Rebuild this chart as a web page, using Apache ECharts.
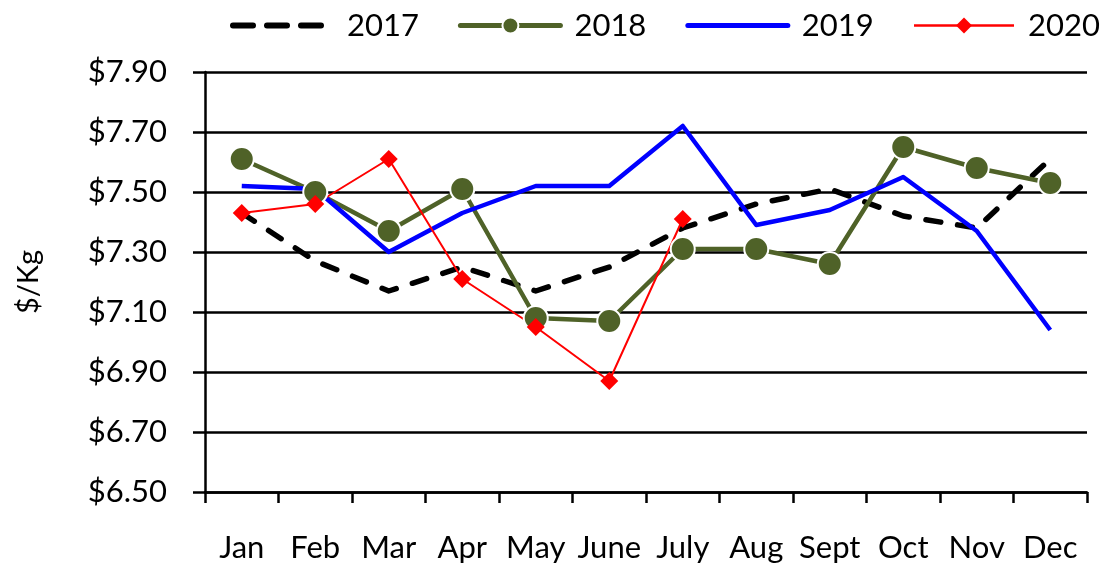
<!DOCTYPE html>
<html>
<head>
<meta charset="utf-8">
<script src="https://cdn.jsdelivr.net/npm/echarts@6/dist/echarts.min.js"></script>
<style>
  html, body { margin: 0; padding: 0; background: #fff; }
  #main { width: 1104px; height: 564px; }
</style>
</head>
<body>
<div id="main"></div>
<script>
// 月份
let months = ['Jan', 'Feb', 'Mar', 'Apr', 'May', 'June', 'July', 'Aug', 'Sept', 'Oct', 'Nov', 'Dec'];
// 各年价格 ($/Kg)
let y2017 = [7.43, 7.27, 7.17, 7.25, 7.17, 7.25, 7.38, 7.46, 7.51, 7.42, 7.38, 7.61];
let y2018 = [7.61, 7.50, 7.37, 7.51, 7.08, 7.07, 7.31, 7.31, 7.26, 7.65, 7.58, 7.53];
let y2019 = [7.52, 7.51, 7.30, 7.43, 7.52, 7.52, 7.72, 7.39, 7.44, 7.55, 7.37, 7.04];
let y2020 = [7.43, 7.46, 7.61, 7.21, 7.05, 6.87, 7.41, null, null, null, null, null];

let FONT = 'Lato';
let OLIVE = '#4F6228';

let myChart = echarts.init(document.getElementById('main'));
let option = {
    animation: false,
    backgroundColor: '#fff',
    textStyle: { fontFamily: FONT },
    legend: {
        top: 10,
        left: 230,
        width: 874,
        padding: 0,
        itemWidth: 100,
        itemHeight: 20,
        itemGap: 39,
        textStyle: { fontFamily: FONT, fontSize: 31, color: '#000', padding: [0, 0, 0, 9] },
        data: [
            { name: '2017', itemStyle: { opacity: 0 }, lineStyle: { color: '#000', width: 6, type: [20, 14], cap: 'round' } },
            { name: '2018', lineStyle: { color: OLIVE, width: 5, cap: 'round' } },
            { name: '2019', itemStyle: { opacity: 0 }, lineStyle: { color: '#0000FF', width: 5, cap: 'round' } },
            { name: '2020', lineStyle: { color: '#FF0000', width: 2.5 } }
        ]
    },
    grid: {
        left: 205,
        right: 17,
        top: 72,
        bottom: 72
    },
    xAxis: {
        type: 'category',
        data: months,
        boundaryGap: true,
        axisLine: { lineStyle: { color: '#000', width: 2.5 } },
        axisTick: { show: true, alignWithLabel: false, length: 11, lineStyle: { color: '#000', width: 2.5 } },
        axisLabel: { color: '#000', fontFamily: FONT, fontSize: 31, margin: 40, interval: 0 }
    },
    yAxis: {
        type: 'value',
        min: 6.5,
        max: 7.9,
        interval: 0.2,
        name: '$/Kg',
        nameLocation: 'middle',
        nameRotate: 90,
        nameGap: 162,
        nameTextStyle: { color: '#000', fontFamily: FONT, fontSize: 29 },
        axisLine: { show: true, lineStyle: { color: '#000', width: 2.5 } },
        axisTick: { show: true, length: 12, lineStyle: { color: '#000', width: 2.5 } },
        axisLabel: {
            color: '#000', fontFamily: FONT, fontSize: 31, margin: 38,
            formatter: function (v) { return '$' + v.toFixed(2); }
        },
        splitLine: { lineStyle: { color: '#000', width: 2.5 } }
    },
    series: [
        {
            name: '2017',
            type: 'line',
            data: y2017,
            showSymbol: false,
            symbol: 'none',
            itemStyle: { color: '#000' },
            lineStyle: { color: '#000', width: 5.5, type: [15, 17], cap: 'round', join: 'round' }
        },
        {
            name: '2018',
            type: 'line',
            data: y2018,
            symbol: 'circle',
            symbolSize: 24,
            itemStyle: { color: OLIVE, borderColor: '#fff', borderWidth: 2 },
            lineStyle: { color: OLIVE, width: 4.5 }
        },
        {
            name: '2019',
            type: 'line',
            data: y2019,
            symbol: 'none',
            itemStyle: { color: '#0000FF' },
            lineStyle: { color: '#0000FF', width: 4.5, join: 'round' }
        },
        {
            name: '2020',
            type: 'line',
            data: y2020,
            symbol: 'diamond',
            symbolSize: 18,
            itemStyle: { color: '#FF0000' },
            lineStyle: { color: '#FF0000', width: 2 }
        }
    ]
};
myChart.setOption(option);
</script>
</body>
</html>
